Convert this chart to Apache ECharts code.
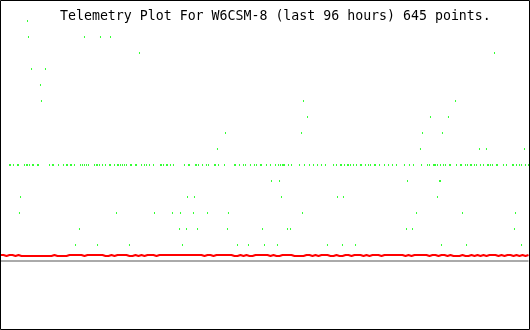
<!DOCTYPE html>
<html>
<head>
<meta charset="utf-8">
<script src="https://cdn.jsdelivr.net/npm/echarts@6/dist/echarts.min.js"></script>
<style>
html,body{margin:0;padding:0;background:#fff;}
#chart{width:530px;height:330px;}
</style>
</head>
<body>
<div id="chart"></div>
<script>
// ---- DATA ----
const titleText = "Telemetry Plot For W6CSM-8 (last 96 hours) 645 points.";
const hoursSpan = 96;

// channel A (green): hours of samples sitting at the normal level (96 counts)
const greenNormalLevel = 96;
const greenNormalHours = [
 1.64,1.82,2.36,3.09,3.27,4.36,4.73,4.91,5.27,5.82,6.00,6.73,6.91,8.91,9.45,9.64,10.55,11.45,12.00,12.18,
 12.73,12.91,13.45,14.55,14.91,15.27,15.64,16.00,17.09,17.45,17.64,18.00,18.55,19.09,19.82,20.00,20.73,21.27,21.45,21.82,
 22.18,22.55,22.91,23.64,23.82,24.55,24.73,25.64,26.18,26.55,27.09,27.82,29.09,29.27,29.64,30.18,30.36,30.91,31.45,
 33.45,34.18,34.36,35.45,35.64,36.00,36.73,37.45,37.82,38.91,39.09,39.64,40.73,42.55,42.73,43.45,44.18,44.55,45.45,46.18,
 46.55,47.27,47.45,48.36,49.09,50.00,50.55,50.91,51.27,51.45,51.64,52.36,52.91,54.36,55.27,56.18,56.91,57.64,58.36,59.09,
 60.55,61.09,61.82,62.00,62.55,63.09,63.27,63.64,64.18,64.73,65.45,65.64,
 66.36,66.91,67.27,68.00,68.18,68.91,69.82,70.55,71.27,72.00,73.45,74.36,75.09,76.55,77.64,78.00,78.73,78.91,79.09,79.45,
 80.00,80.55,80.91,81.64,81.82,82.91,83.64,83.82,84.55,84.91,85.45,85.64,86.18,86.55,87.27,87.82,88.55,88.73,89.09,89.45,
 90.18,90.36,91.45,92.00,93.09,93.27,93.82,94.36,94.73,95.45,96.00
];
// channel A (green): off-level samples [hour, counts]
const greenOffLevel = [
 [4.91,240],
 [5.09,224],[15.27,224],[18.18,224],[20.00,224],
 [25.27,208],[89.82,208],
 [5.64,192],[8.18,192],
 [7.27,176],
 [7.45,160],[55.09,160],[82.73,160],
 [55.82,144],[78.18,144],[81.45,144],
 [40.91,128],[54.73,128],[76.73,128],[80.36,128],
 [39.45,112],[76.36,112],[87.09,112],[88.36,112],[95.27,112],
 [49.27,80],[50.73,80],[74.00,80],[79.82,80],[80.00,80],
 [3.64,64],[34.00,64],[35.27,64],[51.09,64],[61.27,64],[62.36,64],[79.45,64],
 [3.45,48],[21.09,48],[28.00,48],[31.27,48],[32.73,48],[35.09,48],[37.64,48],[41.45,48],[54.91,48],[75.64,48],[84.00,48],[93.64,48],
 [14.36,32],[32.55,32],[33.82,32],[35.82,32],[41.27,32],[47.64,32],[52.18,32],[52.73,32],[73.82,32],[74.91,32],[93.45,32],
 [13.64,16],[17.64,16],[23.45,16],[33.09,16],[43.09,16],[45.09,16],[48.00,16],[50.36,16],[59.45,16],[62.18,16],[64.55,16],[80.18,16],[84.73,16],[94.73,16]
];

// channel B (red): regularly sampled counts, every 0.3636 h
const redSampleHours = 2 / 5.5;
const redValues = [
 6,6,6, 5,6,5,6,5,5,6,5,6,
 5,5,5,5,5,5,5,5,5,5,5,5,5,5,5,
 6,5,6,5,5,6,5,6,5,6,6,
 6,6,6, 5,5,6,5, 6,6,6,6,6, 5,6,5,5,5,6,
 6,5,6,5,6,6,5,6,5,6,5,
 6,6,5,6,5,5,6,5,6,6,
 5,5,6,6,6,6,6,6,6,6,
 6,6,5,6,6,5,6,6,5,6,
 6,5,6,6,5,5,6,6,6,5,
 6,6,6,5,6,6,6,6,6,6,
 5,5,5,6,5,6,6,5,6,5,
 6,5,6,6,5,6,
 6,6,5,6,6,5,5,6,6,6,
 5,6,6,6,5,5,6,5,5,5,
 6,6,6,5,6,6,5,6,6,6,
 6,5,5,5,5,6,5,6,5,6,
 6,6,5,6,6,6,5,6,5,6,
 6,5,6,6,6,5,6,5,6,6,
 6,5,6,6,5,6,6,
 6,6,5,6,6,5,6,6,6,5,
 6,6,5,6,5,6,6,6,5,5,
 6,5,6,5,6,6,5,6,5,5,
 6,6,5,6,5,6,5,5,6,6,
 5,6,6,5,6,5,6,6,6,5,
 6,6,5,6,6,6,5,6,6,5,
 6,6,5,6,6
];
const baselineValue = 0;

// ---- BUILD ----
const greenData = greenNormalHours.map(h => [h, greenNormalLevel]).concat(greenOffLevel);
const redData = redValues.map((v, i) => [i * redSampleHours, v]);

const chart = echarts.init(document.getElementById('chart'), null, {renderer: 'canvas'});
chart.setOption({
  animation: false,
  backgroundColor: '#ffffff',
  title: {
    text: titleText,
    left: 60,
    top: 10,
    padding: 0,
    textStyle: {fontFamily: 'DejaVu Sans Mono', fontSize: 13.25, fontWeight: 'normal', color: '#000000'}
  },
  grid: {left: 0.5, width: 528, top: 5, height: 256},
  xAxis: {type: 'value', min: 0, max: hoursSpan, show: false},
  yAxis: {type: 'value', min: 0, max: 256, show: false},
  series: [
    {
      type: 'line', silent: true, symbol: 'none',
      data: [[0, baselineValue], [hoursSpan, baselineValue]],
      lineStyle: {color: '#aaaaaa', width: 2}
    },
    {
      type: 'line', silent: true, symbol: 'none', step: 'middle',
      data: redData,
      lineStyle: {color: '#ff0000', width: 2}
    },
    {
      type: 'scatter', silent: true, symbol: 'rect', symbolSize: [1, 2],
      data: greenData,
      itemStyle: {color: '#00ff00'}
    }
  ],
  graphic: [{
    type: 'rect', silent: true, z: 100,
    shape: {x: 0.5, y: 0.5, width: 529, height: 329},
    style: {fill: null, stroke: '#000000', lineWidth: 1}
  }]
});
</script>
</body>
</html>
